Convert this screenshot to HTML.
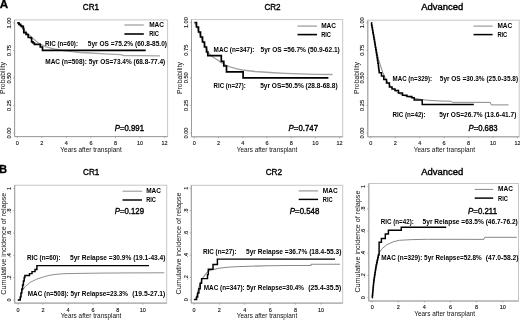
<!DOCTYPE html>
<html lang="en"><head><meta charset="utf-8"><title>Figure: OS and relapse by conditioning intensity</title>
<style>html,body{margin:0;padding:0;background:#fff;overflow:hidden}svg{display:block;will-change:transform}text{font-family:"Liberation Sans","DejaVu Sans",sans-serif}</style>
</head><body>
<svg width="520" height="320" viewBox="0 0 520 320">
<rect width="520" height="320" fill="#fff"/>
<g>
<rect x="14.6" y="19.9" width="153.0" height="116.7" fill="#fff" stroke="#c6c6c6" stroke-width="1"/>
<line x1="14.6" y1="19.9" x2="14.6" y2="136.6" stroke="#909090" stroke-width="0.8"/>
<line x1="14.6" y1="136.6" x2="167.6" y2="136.6" stroke="#909090" stroke-width="0.8"/>
<line x1="13.0" y1="23" x2="14.6" y2="23" stroke="#909090" stroke-width="0.6"/>
<text x="11.0" y="23" font-size="5.5" text-anchor="middle" textLength="11" lengthAdjust="spacingAndGlyphs" transform="rotate(-90 11.0 23)" fill="#111" stroke="#111" stroke-width="0.12">1.00</text>
<line x1="13.0" y1="50.5" x2="14.6" y2="50.5" stroke="#909090" stroke-width="0.6"/>
<text x="11.0" y="50.5" font-size="5.5" text-anchor="middle" textLength="11" lengthAdjust="spacingAndGlyphs" transform="rotate(-90 11.0 50.5)" fill="#111" stroke="#111" stroke-width="0.12">0.75</text>
<line x1="13.0" y1="78.0" x2="14.6" y2="78.0" stroke="#909090" stroke-width="0.6"/>
<text x="11.0" y="78.0" font-size="5.5" text-anchor="middle" textLength="11" lengthAdjust="spacingAndGlyphs" transform="rotate(-90 11.0 78.0)" fill="#111" stroke="#111" stroke-width="0.12">0.50</text>
<line x1="13.0" y1="105.5" x2="14.6" y2="105.5" stroke="#909090" stroke-width="0.6"/>
<text x="11.0" y="105.5" font-size="5.5" text-anchor="middle" textLength="11" lengthAdjust="spacingAndGlyphs" transform="rotate(-90 11.0 105.5)" fill="#111" stroke="#111" stroke-width="0.12">0.25</text>
<line x1="13.0" y1="133" x2="14.6" y2="133" stroke="#909090" stroke-width="0.6"/>
<text x="11.0" y="133" font-size="5.5" text-anchor="middle" textLength="11" lengthAdjust="spacingAndGlyphs" transform="rotate(-90 11.0 133)" fill="#111" stroke="#111" stroke-width="0.12">0.00</text>
<line x1="17.3" y1="136.6" x2="17.3" y2="138.2" stroke="#909090" stroke-width="0.6"/>
<text x="17.3" y="145.05" font-size="5.5" text-anchor="middle" fill="#111" stroke="#111" stroke-width="0.12">0</text>
<line x1="41.85" y1="136.6" x2="41.85" y2="138.2" stroke="#909090" stroke-width="0.6"/>
<text x="41.85" y="145.05" font-size="5.5" text-anchor="middle" fill="#111" stroke="#111" stroke-width="0.12">2</text>
<line x1="66.4" y1="136.6" x2="66.4" y2="138.2" stroke="#909090" stroke-width="0.6"/>
<text x="66.4" y="145.05" font-size="5.5" text-anchor="middle" fill="#111" stroke="#111" stroke-width="0.12">4</text>
<line x1="90.95" y1="136.6" x2="90.95" y2="138.2" stroke="#909090" stroke-width="0.6"/>
<text x="90.95" y="145.05" font-size="5.5" text-anchor="middle" fill="#111" stroke="#111" stroke-width="0.12">6</text>
<line x1="115.5" y1="136.6" x2="115.5" y2="138.2" stroke="#909090" stroke-width="0.6"/>
<text x="115.5" y="145.05" font-size="5.5" text-anchor="middle" fill="#111" stroke="#111" stroke-width="0.12">8</text>
<line x1="140.05" y1="136.6" x2="140.05" y2="138.2" stroke="#909090" stroke-width="0.6"/>
<text x="140.05" y="145.05" font-size="5.5" text-anchor="middle" fill="#111" stroke="#111" stroke-width="0.12">10</text>
<line x1="164.6" y1="136.6" x2="164.6" y2="138.2" stroke="#909090" stroke-width="0.6"/>
<text x="164.6" y="145.05" font-size="5.5" text-anchor="middle" fill="#111" stroke="#111" stroke-width="0.12">12</text>
<text x="91" y="151.9" font-size="6.9" text-anchor="middle" textLength="61.4" lengthAdjust="spacingAndGlyphs" fill="#111">Years after transplant</text>
<text x="5.2" y="78" font-size="6.7" text-anchor="middle" textLength="32" lengthAdjust="spacingAndGlyphs" transform="rotate(-90 5.2 78)" fill="#111">Probability</text>
<text x="90.9" y="9.9" font-size="9.8" text-anchor="middle" textLength="16.2" lengthAdjust="spacingAndGlyphs" stroke="#000" stroke-width="0.4">CR1</text>
<polyline points="17.3,22.8 20,25.6 24,30 28,34 32,37.6 36.2,41.2 40,44.2 46.2,46.9 53.7,48.8 62.5,50.3 72,51.7 80,52.5 90,53 105,53.8 120.5,54.6 124,55.6 140,55.7 160,55.9" fill="none" stroke="#a6a6a6" stroke-width="1.35" stroke-linejoin="round"/>
<polyline points="17.3,22.8 19,22.8 19,24.3 20.5,24.3 20.5,25.5 21.6,25.5 21.6,26.4 23.3,26.4 23.3,28.5 23.8,28.5 23.8,32.6 26,32.6 26,34.5 28.2,34.5 28.2,37.5 30.9,37.5 30.9,38 31.6,38 31.6,41.8 33,41.8 33,43 34.4,43 34.4,44.4 39.4,44.4 40.3,44.4 40.3,47 42.5,47 42.5,50.3 145.7,50.3" fill="none" stroke="#000" stroke-width="1.7" stroke-linejoin="miter"/>
<line x1="124.4" y1="25" x2="143.8" y2="25" stroke="#a6a6a6" stroke-width="1.35"/>
<line x1="124.4" y1="34" x2="143.8" y2="34" stroke="#000" stroke-width="1.6"/>
<text x="149.2" y="27.05" font-size="6.8" font-weight="bold" textLength="14.8" lengthAdjust="spacingAndGlyphs">MAC</text>
<text x="149.2" y="36.4" font-size="6.8" font-weight="bold" textLength="9.8" lengthAdjust="spacingAndGlyphs">RIC</text>
<text x="114.8" y="131.2" font-size="8.8" stroke="#000" stroke-width="0.38" textLength="29.2" lengthAdjust="spacingAndGlyphs"><tspan font-style="italic">P</tspan>=0.991</text>
<text x="45" y="46" font-size="7" font-weight="bold" textLength="33" lengthAdjust="spacingAndGlyphs">RIC (n=60):</text>
<text x="87.8" y="46" font-size="7" font-weight="bold" textLength="79.2" lengthAdjust="spacingAndGlyphs">5yr OS =75.2% (60.8-85.0)</text>
<text x="45.3" y="63.5" font-size="7" font-weight="bold" textLength="119.9" lengthAdjust="spacingAndGlyphs">MAC (n=508): 5yr OS=73.4% (68.8-77.4)</text>
</g>
<g>
<rect x="191.5" y="19.6" width="151.2" height="117.2" fill="#fff" stroke="#c6c6c6" stroke-width="1"/>
<line x1="191.5" y1="19.6" x2="191.5" y2="136.8" stroke="#909090" stroke-width="0.8"/>
<line x1="191.5" y1="136.8" x2="342.7" y2="136.8" stroke="#909090" stroke-width="0.8"/>
<line x1="189.9" y1="22.6" x2="191.5" y2="22.6" stroke="#909090" stroke-width="0.6"/>
<text x="187.9" y="22.6" font-size="5.5" text-anchor="middle" textLength="11" lengthAdjust="spacingAndGlyphs" transform="rotate(-90 187.9 22.6)" fill="#111" stroke="#111" stroke-width="0.12">1.00</text>
<line x1="189.9" y1="50.2" x2="191.5" y2="50.2" stroke="#909090" stroke-width="0.6"/>
<text x="187.9" y="50.2" font-size="5.5" text-anchor="middle" textLength="11" lengthAdjust="spacingAndGlyphs" transform="rotate(-90 187.9 50.2)" fill="#111" stroke="#111" stroke-width="0.12">0.75</text>
<line x1="189.9" y1="77.8" x2="191.5" y2="77.8" stroke="#909090" stroke-width="0.6"/>
<text x="187.9" y="77.8" font-size="5.5" text-anchor="middle" textLength="11" lengthAdjust="spacingAndGlyphs" transform="rotate(-90 187.9 77.8)" fill="#111" stroke="#111" stroke-width="0.12">0.50</text>
<line x1="189.9" y1="105.4" x2="191.5" y2="105.4" stroke="#909090" stroke-width="0.6"/>
<text x="187.9" y="105.4" font-size="5.5" text-anchor="middle" textLength="11" lengthAdjust="spacingAndGlyphs" transform="rotate(-90 187.9 105.4)" fill="#111" stroke="#111" stroke-width="0.12">0.25</text>
<line x1="189.9" y1="133.0" x2="191.5" y2="133.0" stroke="#909090" stroke-width="0.6"/>
<text x="187.9" y="133.0" font-size="5.5" text-anchor="middle" textLength="11" lengthAdjust="spacingAndGlyphs" transform="rotate(-90 187.9 133.0)" fill="#111" stroke="#111" stroke-width="0.12">0.00</text>
<line x1="194.4" y1="136.8" x2="194.4" y2="138.4" stroke="#909090" stroke-width="0.6"/>
<text x="194.4" y="145.25" font-size="5.5" text-anchor="middle" fill="#111" stroke="#111" stroke-width="0.12">0</text>
<line x1="218.6" y1="136.8" x2="218.6" y2="138.4" stroke="#909090" stroke-width="0.6"/>
<text x="218.6" y="145.25" font-size="5.5" text-anchor="middle" fill="#111" stroke="#111" stroke-width="0.12">2</text>
<line x1="242.8" y1="136.8" x2="242.8" y2="138.4" stroke="#909090" stroke-width="0.6"/>
<text x="242.8" y="145.25" font-size="5.5" text-anchor="middle" fill="#111" stroke="#111" stroke-width="0.12">4</text>
<line x1="267.0" y1="136.8" x2="267.0" y2="138.4" stroke="#909090" stroke-width="0.6"/>
<text x="267.0" y="145.25" font-size="5.5" text-anchor="middle" fill="#111" stroke="#111" stroke-width="0.12">6</text>
<line x1="291.2" y1="136.8" x2="291.2" y2="138.4" stroke="#909090" stroke-width="0.6"/>
<text x="291.2" y="145.25" font-size="5.5" text-anchor="middle" fill="#111" stroke="#111" stroke-width="0.12">8</text>
<line x1="315.4" y1="136.8" x2="315.4" y2="138.4" stroke="#909090" stroke-width="0.6"/>
<text x="315.4" y="145.25" font-size="5.5" text-anchor="middle" fill="#111" stroke="#111" stroke-width="0.12">10</text>
<line x1="339.6" y1="136.8" x2="339.6" y2="138.4" stroke="#909090" stroke-width="0.6"/>
<text x="339.6" y="145.25" font-size="5.5" text-anchor="middle" fill="#111" stroke="#111" stroke-width="0.12">12</text>
<text x="267" y="152" font-size="6.9" text-anchor="middle" textLength="60.5" lengthAdjust="spacingAndGlyphs" fill="#111">Years after transplant</text>
<text x="182.2" y="78" font-size="6.7" text-anchor="middle" textLength="32" lengthAdjust="spacingAndGlyphs" transform="rotate(-90 182.2 78)" fill="#111">Probability</text>
<text x="272.5" y="9.9" font-size="9.8" text-anchor="middle" textLength="16.2" lengthAdjust="spacingAndGlyphs" stroke="#000" stroke-width="0.4">CR2</text>
<polyline points="194.5,22.5 197.8,29 201,37 204.2,44 208.5,52.6 211.3,56 216,59 221.3,62.4 225,64.8 230,66.9 237,68.9 242.5,70 255,71.5 270,72.5 285,73.3 300,73.9 315,74.3 332.5,74.5" fill="none" stroke="#a2a2a2" stroke-width="1.35" stroke-linejoin="round"/>
<polyline points="194.5,22.5 196.5,22.5 196.5,27 198.5,27 198.5,32 200.5,32 200.5,37 202.5,37 202.5,42 204.5,42 204.5,47 206.5,47 206.5,52 207.8,52 207.8,55.6 221.3,55.6 221.3,61.3 223.8,61.3 223.8,66 226.5,66 226.5,71.8 243.1,71.8 243.1,77.8 328.4,77.8" fill="none" stroke="#000" stroke-width="1.7" stroke-linejoin="miter"/>
<line x1="297.5" y1="26.1" x2="317" y2="26.1" stroke="#a2a2a2" stroke-width="1.35"/>
<line x1="297.5" y1="34.6" x2="317" y2="34.6" stroke="#000" stroke-width="1.6"/>
<text x="321.2" y="28.15" font-size="6.8" font-weight="bold" textLength="14.8" lengthAdjust="spacingAndGlyphs">MAC</text>
<text x="321.2" y="37.0" font-size="6.8" font-weight="bold" textLength="9.8" lengthAdjust="spacingAndGlyphs">RIC</text>
<text x="288.6" y="131.2" font-size="8.8" stroke="#000" stroke-width="0.38" textLength="29.4" lengthAdjust="spacingAndGlyphs"><tspan font-style="italic">P</tspan>=0.747</text>
<text x="213.6" y="52.2" font-size="7" font-weight="bold" textLength="40.8" lengthAdjust="spacingAndGlyphs">MAC (n=347):</text>
<text x="260.5" y="52.2" font-size="7" font-weight="bold" textLength="79.3" lengthAdjust="spacingAndGlyphs">5yr OS =56.7% (50.9-62.1)</text>
<text x="213.6" y="88.3" font-size="7" font-weight="bold" textLength="32.2" lengthAdjust="spacingAndGlyphs">RIC (n=27):</text>
<text x="260.2" y="88.3" font-size="7" font-weight="bold" textLength="77.4" lengthAdjust="spacingAndGlyphs">5yr OS=50.5% (28.8-68.8)</text>
</g>
<g>
<rect x="367.8" y="20.2" width="151.4" height="116.6" fill="#fff" stroke="#c6c6c6" stroke-width="1"/>
<line x1="367.8" y1="20.2" x2="367.8" y2="136.8" stroke="#909090" stroke-width="0.8"/>
<line x1="367.8" y1="136.8" x2="519.2" y2="136.8" stroke="#909090" stroke-width="0.8"/>
<line x1="366.2" y1="22.8" x2="367.8" y2="22.8" stroke="#909090" stroke-width="0.6"/>
<text x="364.2" y="22.8" font-size="5.5" text-anchor="middle" textLength="11" lengthAdjust="spacingAndGlyphs" transform="rotate(-90 364.2 22.8)" fill="#111" stroke="#111" stroke-width="0.12">1.00</text>
<line x1="366.2" y1="50.35" x2="367.8" y2="50.35" stroke="#909090" stroke-width="0.6"/>
<text x="364.2" y="50.35" font-size="5.5" text-anchor="middle" textLength="11" lengthAdjust="spacingAndGlyphs" transform="rotate(-90 364.2 50.35)" fill="#111" stroke="#111" stroke-width="0.12">0.75</text>
<line x1="366.2" y1="77.9" x2="367.8" y2="77.9" stroke="#909090" stroke-width="0.6"/>
<text x="364.2" y="77.9" font-size="5.5" text-anchor="middle" textLength="11" lengthAdjust="spacingAndGlyphs" transform="rotate(-90 364.2 77.9)" fill="#111" stroke="#111" stroke-width="0.12">0.50</text>
<line x1="366.2" y1="105.45" x2="367.8" y2="105.45" stroke="#909090" stroke-width="0.6"/>
<text x="364.2" y="105.45" font-size="5.5" text-anchor="middle" textLength="11" lengthAdjust="spacingAndGlyphs" transform="rotate(-90 364.2 105.45)" fill="#111" stroke="#111" stroke-width="0.12">0.25</text>
<line x1="366.2" y1="133.0" x2="367.8" y2="133.0" stroke="#909090" stroke-width="0.6"/>
<text x="364.2" y="133.0" font-size="5.5" text-anchor="middle" textLength="11" lengthAdjust="spacingAndGlyphs" transform="rotate(-90 364.2 133.0)" fill="#111" stroke="#111" stroke-width="0.12">0.00</text>
<line x1="370.8" y1="136.8" x2="370.8" y2="138.4" stroke="#909090" stroke-width="0.6"/>
<text x="370.8" y="145.25" font-size="5.5" text-anchor="middle" fill="#111" stroke="#111" stroke-width="0.12">0</text>
<line x1="395.25" y1="136.8" x2="395.25" y2="138.4" stroke="#909090" stroke-width="0.6"/>
<text x="395.25" y="145.25" font-size="5.5" text-anchor="middle" fill="#111" stroke="#111" stroke-width="0.12">2</text>
<line x1="419.7" y1="136.8" x2="419.7" y2="138.4" stroke="#909090" stroke-width="0.6"/>
<text x="419.7" y="145.25" font-size="5.5" text-anchor="middle" fill="#111" stroke="#111" stroke-width="0.12">4</text>
<line x1="444.15" y1="136.8" x2="444.15" y2="138.4" stroke="#909090" stroke-width="0.6"/>
<text x="444.15" y="145.25" font-size="5.5" text-anchor="middle" fill="#111" stroke="#111" stroke-width="0.12">6</text>
<line x1="468.6" y1="136.8" x2="468.6" y2="138.4" stroke="#909090" stroke-width="0.6"/>
<text x="468.6" y="145.25" font-size="5.5" text-anchor="middle" fill="#111" stroke="#111" stroke-width="0.12">8</text>
<line x1="493.05" y1="136.8" x2="493.05" y2="138.4" stroke="#909090" stroke-width="0.6"/>
<text x="493.05" y="145.25" font-size="5.5" text-anchor="middle" fill="#111" stroke="#111" stroke-width="0.12">10</text>
<line x1="517.5" y1="136.8" x2="517.5" y2="138.4" stroke="#909090" stroke-width="0.6"/>
<text x="517.5" y="145.25" font-size="5.5" text-anchor="middle" fill="#111" stroke="#111" stroke-width="0.12">12</text>
<text x="444.4" y="151.9" font-size="6.9" text-anchor="middle" textLength="61.4" lengthAdjust="spacingAndGlyphs" fill="#111">Years after transplant</text>
<text x="358.5" y="78" font-size="6.7" text-anchor="middle" textLength="32" lengthAdjust="spacingAndGlyphs" transform="rotate(-90 358.5 78)" fill="#111">Probability</text>
<text x="442.3" y="9.9" font-size="9.8" text-anchor="middle" textLength="42" lengthAdjust="spacingAndGlyphs" stroke="#000" stroke-width="0.4">Advanced</text>
<polyline points="371.2,22.8 373,33 375.2,44.5 376.9,52 378.4,59 380.3,65 382.8,72.5 385.5,78.5 389.4,84.8 394,89.8 398.7,93.4 404,95.6 410,97.2 416,98.5 421.3,99.6 430,100.4 440,101 451,101.2 452,102.3 490.4,102.4 491.2,104.9 508.5,104.9" fill="none" stroke="#888888" stroke-width="1.0" stroke-linejoin="round"/>
<polyline points="371.2,22.8 371.61,22.8 371.61,25.2 372.02,25.2 372.02,27.6 372.44,27.6 372.44,30.0 372.85,30.0 372.85,32.4 373.26,32.4 373.26,34.8 373.68,34.8 373.68,37.2 374.09,37.2 374.09,39.6 374.5,39.6 374.5,42.0 374.92,42.0 374.92,44.6 375.34,44.6 375.34,47.2 375.76,47.2 375.76,49.8 376.18,49.8 376.18,52.4 376.6,52.4 376.6,55.0 377.03,55.0 377.03,57.75 377.45,57.75 377.45,60.5 377.88,60.5 377.88,63.25 378.3,63.25 378.3,66.0 378.6,66.0 378.6,68.27 378.9,68.27 378.9,70.53 379.2,70.53 379.2,72.8 381.5,72.8 381.5,76 383.8,76 383.8,79.4 386.5,79.4 386.5,83 389.4,83 389.4,86.9 392,86.9 392,89 395,89 395,90.6 398.5,90.6 398.5,93 402.5,93 402.5,95.3 407,95.3 407,96.5 411.9,96.5 411.9,97.8 414.2,97.8 414.2,100 422.2,100 422.2,104.4 473.8,104.4" fill="none" stroke="#000" stroke-width="1.5" stroke-linejoin="miter"/>
<line x1="473.5" y1="26.1" x2="492.6" y2="26.1" stroke="#888888" stroke-width="1.0"/>
<line x1="473.5" y1="34.6" x2="492.6" y2="34.6" stroke="#000" stroke-width="1.5"/>
<text x="497.4" y="28.15" font-size="6.8" font-weight="bold" textLength="14.8" lengthAdjust="spacingAndGlyphs">MAC</text>
<text x="497.4" y="37.0" font-size="6.8" font-weight="bold" textLength="9.8" lengthAdjust="spacingAndGlyphs">RIC</text>
<text x="468.5" y="131.1" font-size="8.8" stroke="#000" stroke-width="0.38" textLength="29" lengthAdjust="spacingAndGlyphs"><tspan font-style="italic">P</tspan>=0.683</text>
<text x="392.6" y="80.6" font-size="7" font-weight="bold" textLength="39.5" lengthAdjust="spacingAndGlyphs">MAC (n=329):</text>
<text x="439.8" y="80.6" font-size="7" font-weight="bold" textLength="78.3" lengthAdjust="spacingAndGlyphs">5yr OS =30.3% (25.0-35.8)</text>
<text x="392.5" y="117" font-size="7" font-weight="bold" textLength="33" lengthAdjust="spacingAndGlyphs">RIC (n=42):</text>
<text x="439.2" y="117" font-size="7" font-weight="bold" textLength="77.2" lengthAdjust="spacingAndGlyphs">5yr OS=26.7% (13.6-41.7)</text>
</g>
<g>
<rect x="14.7" y="185.2" width="152.0" height="117.9" fill="#fff" stroke="#c6c6c6" stroke-width="1"/>
<line x1="14.7" y1="185.2" x2="14.7" y2="303.1" stroke="#909090" stroke-width="0.8"/>
<line x1="14.7" y1="303.1" x2="166.7" y2="303.1" stroke="#909090" stroke-width="0.8"/>
<line x1="13.1" y1="188.4" x2="14.7" y2="188.4" stroke="#909090" stroke-width="0.6"/>
<text x="11.1" y="188.4" font-size="5.5" text-anchor="middle" transform="rotate(-90 11.1 188.4)" fill="#111" stroke="#111" stroke-width="0.12">1</text>
<line x1="13.1" y1="210.72" x2="14.7" y2="210.72" stroke="#909090" stroke-width="0.6"/>
<text x="11.1" y="210.72" font-size="5.5" text-anchor="middle" transform="rotate(-90 11.1 210.72)" fill="#111" stroke="#111" stroke-width="0.12">.8</text>
<line x1="13.1" y1="233.04" x2="14.7" y2="233.04" stroke="#909090" stroke-width="0.6"/>
<text x="11.1" y="233.04" font-size="5.5" text-anchor="middle" transform="rotate(-90 11.1 233.04)" fill="#111" stroke="#111" stroke-width="0.12">.6</text>
<line x1="13.1" y1="255.36" x2="14.7" y2="255.36" stroke="#909090" stroke-width="0.6"/>
<text x="11.1" y="255.36" font-size="5.5" text-anchor="middle" transform="rotate(-90 11.1 255.36)" fill="#111" stroke="#111" stroke-width="0.12">.4</text>
<line x1="13.1" y1="277.68" x2="14.7" y2="277.68" stroke="#909090" stroke-width="0.6"/>
<text x="11.1" y="277.68" font-size="5.5" text-anchor="middle" transform="rotate(-90 11.1 277.68)" fill="#111" stroke="#111" stroke-width="0.12">.2</text>
<line x1="13.1" y1="300.0" x2="14.7" y2="300.0" stroke="#909090" stroke-width="0.6"/>
<text x="11.1" y="300.0" font-size="5.5" text-anchor="middle" transform="rotate(-90 11.1 300.0)" fill="#111" stroke="#111" stroke-width="0.12">0</text>
<line x1="18.1" y1="303.1" x2="18.1" y2="304.7" stroke="#909090" stroke-width="0.6"/>
<text x="18.1" y="311.9" font-size="5.5" text-anchor="middle" fill="#111" stroke="#111" stroke-width="0.12">0</text>
<line x1="43.05" y1="303.1" x2="43.05" y2="304.7" stroke="#909090" stroke-width="0.6"/>
<text x="43.05" y="311.9" font-size="5.5" text-anchor="middle" fill="#111" stroke="#111" stroke-width="0.12">2</text>
<line x1="68.0" y1="303.1" x2="68.0" y2="304.7" stroke="#909090" stroke-width="0.6"/>
<text x="68.0" y="311.9" font-size="5.5" text-anchor="middle" fill="#111" stroke="#111" stroke-width="0.12">4</text>
<line x1="92.95" y1="303.1" x2="92.95" y2="304.7" stroke="#909090" stroke-width="0.6"/>
<text x="92.95" y="311.9" font-size="5.5" text-anchor="middle" fill="#111" stroke="#111" stroke-width="0.12">6</text>
<line x1="117.9" y1="303.1" x2="117.9" y2="304.7" stroke="#909090" stroke-width="0.6"/>
<text x="117.9" y="311.9" font-size="5.5" text-anchor="middle" fill="#111" stroke="#111" stroke-width="0.12">8</text>
<line x1="142.85" y1="303.1" x2="142.85" y2="304.7" stroke="#909090" stroke-width="0.6"/>
<text x="142.85" y="311.9" font-size="5.5" text-anchor="middle" fill="#111" stroke="#111" stroke-width="0.12">10</text>
<text x="91" y="318.4" font-size="6.9" text-anchor="middle" textLength="60.6" lengthAdjust="spacingAndGlyphs" fill="#111">Years after transplant</text>
<text x="6.0" y="243.7" font-size="6.8" text-anchor="middle" textLength="102" lengthAdjust="spacingAndGlyphs" transform="rotate(-90 6.0 243.7)" fill="#111">Cumulative incidence of relapse</text>
<text x="91.2" y="174.8" font-size="9.8" text-anchor="middle" textLength="16.2" lengthAdjust="spacingAndGlyphs" stroke="#000" stroke-width="0.4">CR1</text>
<polyline points="17.8,300 19.6,299.5 20.5,296 21.5,292 22.5,290 25.6,286.2 30.3,282.3 36.6,279.2 44.4,276.6 50,275.2 57,274.2 66,273.6 80,273.4 100,273.1 130,272.9 164.2,272.8" fill="none" stroke="#888888" stroke-width="0.95" stroke-linejoin="round"/>
<polyline points="17.8,300 19.6,300 20.3,300 20.3,297 21,297 21,293 21.8,293 21.8,289 22.6,289 22.6,285 23.4,285 23.4,281 24.2,281 24.2,277.5 24.9,277.5 24.9,275.4 29.5,275.4 29.5,273.6 32,273.6 32,271.6 35,271.6 35,269.5 36,269.5 36.9,269.5 36.9,265.6 149,265.6" fill="none" stroke="#000" stroke-width="1.45" stroke-linejoin="miter"/>
<line x1="122.5" y1="191.2" x2="142" y2="191.2" stroke="#888888" stroke-width="0.95"/>
<line x1="122.5" y1="200" x2="142" y2="200" stroke="#000" stroke-width="1.45"/>
<text x="146.2" y="193.25" font-size="6.8" font-weight="bold" textLength="14.8" lengthAdjust="spacingAndGlyphs">MAC</text>
<text x="146.2" y="202.4" font-size="6.8" font-weight="bold" textLength="9.8" lengthAdjust="spacingAndGlyphs">RIC</text>
<text x="114.8" y="214" font-size="8.8" stroke="#000" stroke-width="0.38" textLength="29.2" lengthAdjust="spacingAndGlyphs"><tspan font-style="italic">P</tspan>=0.129</text>
<text x="27" y="259.9" font-size="7" font-weight="bold" textLength="33.5" lengthAdjust="spacingAndGlyphs">RIC (n=60):</text>
<text x="70" y="259.9" font-size="7" font-weight="bold" textLength="95.4" lengthAdjust="spacingAndGlyphs">5yr Relapse =30.9% (19.1-43.4)</text>
<text x="27.8" y="296" font-size="7" font-weight="bold" textLength="100.2" lengthAdjust="spacingAndGlyphs">MAC (n=508): 5yr Relapse=23.3%</text>
<text x="132.2" y="296" font-size="7" font-weight="bold" textLength="33.2" lengthAdjust="spacingAndGlyphs">(19.5-27.1)</text>
</g>
<g>
<rect x="191.3" y="185.3" width="151.4" height="117.8" fill="#fff" stroke="#c6c6c6" stroke-width="1"/>
<line x1="191.3" y1="185.3" x2="191.3" y2="303.1" stroke="#909090" stroke-width="0.8"/>
<line x1="191.3" y1="303.1" x2="342.7" y2="303.1" stroke="#909090" stroke-width="0.8"/>
<line x1="189.7" y1="188.3" x2="191.3" y2="188.3" stroke="#909090" stroke-width="0.6"/>
<text x="187.7" y="188.3" font-size="5.5" text-anchor="middle" transform="rotate(-90 187.7 188.3)" fill="#111" stroke="#111" stroke-width="0.12">1</text>
<line x1="189.7" y1="210.6" x2="191.3" y2="210.6" stroke="#909090" stroke-width="0.6"/>
<text x="187.7" y="210.6" font-size="5.5" text-anchor="middle" transform="rotate(-90 187.7 210.6)" fill="#111" stroke="#111" stroke-width="0.12">.8</text>
<line x1="189.7" y1="232.9" x2="191.3" y2="232.9" stroke="#909090" stroke-width="0.6"/>
<text x="187.7" y="232.9" font-size="5.5" text-anchor="middle" transform="rotate(-90 187.7 232.9)" fill="#111" stroke="#111" stroke-width="0.12">.6</text>
<line x1="189.7" y1="255.2" x2="191.3" y2="255.2" stroke="#909090" stroke-width="0.6"/>
<text x="187.7" y="255.2" font-size="5.5" text-anchor="middle" transform="rotate(-90 187.7 255.2)" fill="#111" stroke="#111" stroke-width="0.12">.4</text>
<line x1="189.7" y1="277.5" x2="191.3" y2="277.5" stroke="#909090" stroke-width="0.6"/>
<text x="187.7" y="277.5" font-size="5.5" text-anchor="middle" transform="rotate(-90 187.7 277.5)" fill="#111" stroke="#111" stroke-width="0.12">.2</text>
<line x1="189.7" y1="299.8" x2="191.3" y2="299.8" stroke="#909090" stroke-width="0.6"/>
<text x="187.7" y="299.8" font-size="5.5" text-anchor="middle" transform="rotate(-90 187.7 299.8)" fill="#111" stroke="#111" stroke-width="0.12">0</text>
<line x1="194.0" y1="303.1" x2="194.0" y2="304.7" stroke="#909090" stroke-width="0.6"/>
<text x="194.0" y="311.9" font-size="5.5" text-anchor="middle" fill="#111" stroke="#111" stroke-width="0.12">0</text>
<line x1="219.4" y1="303.1" x2="219.4" y2="304.7" stroke="#909090" stroke-width="0.6"/>
<text x="219.4" y="311.9" font-size="5.5" text-anchor="middle" fill="#111" stroke="#111" stroke-width="0.12">2</text>
<line x1="244.8" y1="303.1" x2="244.8" y2="304.7" stroke="#909090" stroke-width="0.6"/>
<text x="244.8" y="311.9" font-size="5.5" text-anchor="middle" fill="#111" stroke="#111" stroke-width="0.12">4</text>
<line x1="270.2" y1="303.1" x2="270.2" y2="304.7" stroke="#909090" stroke-width="0.6"/>
<text x="270.2" y="311.9" font-size="5.5" text-anchor="middle" fill="#111" stroke="#111" stroke-width="0.12">6</text>
<line x1="295.6" y1="303.1" x2="295.6" y2="304.7" stroke="#909090" stroke-width="0.6"/>
<text x="295.6" y="311.9" font-size="5.5" text-anchor="middle" fill="#111" stroke="#111" stroke-width="0.12">8</text>
<line x1="321.0" y1="303.1" x2="321.0" y2="304.7" stroke="#909090" stroke-width="0.6"/>
<text x="321.0" y="311.9" font-size="5.5" text-anchor="middle" fill="#111" stroke="#111" stroke-width="0.12">10</text>
<text x="267" y="318.4" font-size="6.9" text-anchor="middle" textLength="60.4" lengthAdjust="spacingAndGlyphs" fill="#111">Years after transplant</text>
<text x="181.2" y="243.5" font-size="6.8" text-anchor="middle" textLength="102" lengthAdjust="spacingAndGlyphs" transform="rotate(-90 181.2 243.5)" fill="#111">Cumulative incidence of relapse</text>
<text x="273.9" y="174.8" font-size="9.8" text-anchor="middle" textLength="16.4" lengthAdjust="spacingAndGlyphs" stroke="#000" stroke-width="0.4">CR2</text>
<polyline points="194,299.8 196,298 198,290.5 200,284 203,277.8 206,273.6 208,271.5 211.4,270 219,268.2 227,267.3 235,266.7 250,266.2 268,265.8 290,265.6 310.8,265.5 311.2,264.2 340,264.2" fill="none" stroke="#888888" stroke-width="1.05" stroke-linejoin="round"/>
<polyline points="194,299.6 196.6,299.6 196.6,297 197.7,297 197.7,292.9 198.9,292.9 198.9,288.7 200.2,288.7 200.2,283.3 201.6,283.3 201.6,278.6 207.5,278.6 207.5,274.6 208.3,274.6 208.3,269.2 213,269.2 213,264.5 217.4,264.5 217.4,259.1 335,259.1" fill="none" stroke="#000" stroke-width="1.45" stroke-linejoin="miter"/>
<line x1="298.7" y1="190.9" x2="318.1" y2="190.9" stroke="#888888" stroke-width="1.05"/>
<line x1="298.7" y1="199.4" x2="318.1" y2="199.4" stroke="#000" stroke-width="1.45"/>
<text x="322.8" y="192.95" font-size="6.8" font-weight="bold" textLength="14.8" lengthAdjust="spacingAndGlyphs">MAC</text>
<text x="322.8" y="201.8" font-size="6.8" font-weight="bold" textLength="9.8" lengthAdjust="spacingAndGlyphs">RIC</text>
<text x="289.8" y="214" font-size="8.8" stroke="#000" stroke-width="0.38" textLength="29.6" lengthAdjust="spacingAndGlyphs"><tspan font-style="italic">P</tspan>=0.548</text>
<text x="203" y="253.6" font-size="7" font-weight="bold" textLength="33.5" lengthAdjust="spacingAndGlyphs">RIC (n=27):</text>
<text x="246" y="253.6" font-size="7" font-weight="bold" textLength="95.4" lengthAdjust="spacingAndGlyphs">5yr Relapse =36.7% (18.4-55.3)</text>
<text x="203.8" y="289.6" font-size="7" font-weight="bold" textLength="100.2" lengthAdjust="spacingAndGlyphs">MAC (n=347): 5yr Relapse=30.4%</text>
<text x="308.2" y="289.6" font-size="7" font-weight="bold" textLength="33.2" lengthAdjust="spacingAndGlyphs">(25.4-35.5)</text>
</g>
<g>
<rect x="368.8" y="183.5" width="149.7" height="117.5" fill="#fff" stroke="#c6c6c6" stroke-width="1"/>
<line x1="368.8" y1="183.5" x2="368.8" y2="301" stroke="#909090" stroke-width="0.8"/>
<line x1="368.8" y1="301" x2="518.5" y2="301" stroke="#909090" stroke-width="0.8"/>
<line x1="367.2" y1="186.5" x2="368.8" y2="186.5" stroke="#909090" stroke-width="0.6"/>
<text x="365.2" y="186.5" font-size="5.5" text-anchor="middle" transform="rotate(-90 365.2 186.5)" fill="#111" stroke="#111" stroke-width="0.12">1</text>
<line x1="367.2" y1="208.76" x2="368.8" y2="208.76" stroke="#909090" stroke-width="0.6"/>
<text x="365.2" y="208.76" font-size="5.5" text-anchor="middle" transform="rotate(-90 365.2 208.76)" fill="#111" stroke="#111" stroke-width="0.12">.8</text>
<line x1="367.2" y1="231.02" x2="368.8" y2="231.02" stroke="#909090" stroke-width="0.6"/>
<text x="365.2" y="231.02" font-size="5.5" text-anchor="middle" transform="rotate(-90 365.2 231.02)" fill="#111" stroke="#111" stroke-width="0.12">.6</text>
<line x1="367.2" y1="253.28" x2="368.8" y2="253.28" stroke="#909090" stroke-width="0.6"/>
<text x="365.2" y="253.28" font-size="5.5" text-anchor="middle" transform="rotate(-90 365.2 253.28)" fill="#111" stroke="#111" stroke-width="0.12">.4</text>
<line x1="367.2" y1="275.54" x2="368.8" y2="275.54" stroke="#909090" stroke-width="0.6"/>
<text x="365.2" y="275.54" font-size="5.5" text-anchor="middle" transform="rotate(-90 365.2 275.54)" fill="#111" stroke="#111" stroke-width="0.12">.2</text>
<line x1="367.2" y1="297.8" x2="368.8" y2="297.8" stroke="#909090" stroke-width="0.6"/>
<text x="365.2" y="297.8" font-size="5.5" text-anchor="middle" transform="rotate(-90 365.2 297.8)" fill="#111" stroke="#111" stroke-width="0.12">0</text>
<line x1="372.2" y1="301" x2="372.2" y2="302.6" stroke="#909090" stroke-width="0.6"/>
<text x="372.2" y="309.3" font-size="5.5" text-anchor="middle" fill="#111" stroke="#111" stroke-width="0.12">0</text>
<line x1="398.3" y1="301" x2="398.3" y2="302.6" stroke="#909090" stroke-width="0.6"/>
<text x="398.3" y="309.3" font-size="5.5" text-anchor="middle" fill="#111" stroke="#111" stroke-width="0.12">2</text>
<line x1="424.4" y1="301" x2="424.4" y2="302.6" stroke="#909090" stroke-width="0.6"/>
<text x="424.4" y="309.3" font-size="5.5" text-anchor="middle" fill="#111" stroke="#111" stroke-width="0.12">4</text>
<line x1="450.5" y1="301" x2="450.5" y2="302.6" stroke="#909090" stroke-width="0.6"/>
<text x="450.5" y="309.3" font-size="5.5" text-anchor="middle" fill="#111" stroke="#111" stroke-width="0.12">6</text>
<line x1="476.6" y1="301" x2="476.6" y2="302.6" stroke="#909090" stroke-width="0.6"/>
<text x="476.6" y="309.3" font-size="5.5" text-anchor="middle" fill="#111" stroke="#111" stroke-width="0.12">8</text>
<line x1="502.7" y1="301" x2="502.7" y2="302.6" stroke="#909090" stroke-width="0.6"/>
<text x="502.7" y="309.3" font-size="5.5" text-anchor="middle" fill="#111" stroke="#111" stroke-width="0.12">10</text>
<text x="444.7" y="316.3" font-size="6.9" text-anchor="middle" textLength="60.9" lengthAdjust="spacingAndGlyphs" fill="#111">Years after transplant</text>
<text x="359.6" y="241.6" font-size="6.8" text-anchor="middle" textLength="102" lengthAdjust="spacingAndGlyphs" transform="rotate(-90 359.6 241.6)" fill="#111">Cumulative incidence of relapse</text>
<text x="442.2" y="174.8" font-size="9.8" text-anchor="middle" textLength="42" lengthAdjust="spacingAndGlyphs" stroke="#000" stroke-width="0.4">Advanced</text>
<polyline points="371.9,297.8 373,288 374.5,277 376,268 377.5,259 379,252.8 382.2,248.6 386.9,244.7 393.1,241.8 399.4,240.3 411.9,239.6 427.5,239.3 445,239.3 483.9,239.4 484.6,237.3 516.9,237.3" fill="none" stroke="#888888" stroke-width="1.0" stroke-linejoin="round"/>
<polyline points="372.2,297.8 372.43,297.8 372.43,295.26 372.66,295.26 372.66,292.71 372.89,292.71 372.89,290.17 373.11,290.17 373.11,287.63 373.34,287.63 373.34,285.09 373.57,285.09 373.57,282.54 373.8,282.54 373.8,280.0 374.18,280.0 374.18,277.5 374.57,277.5 374.57,275.0 374.95,275.0 374.95,272.5 375.33,272.5 375.33,270.0 375.72,270.0 375.72,267.5 376.1,267.5 376.1,265.0 376.65,265.0 376.65,262.5 377.2,262.5 377.2,260.0 377.75,260.0 377.75,257.5 378.3,257.5 378.3,255.0 379.1,255.0 379.1,252.5 379.1,242.3 381.4,242.3 381.4,238.4 385.3,238.4 385.3,234 388.4,234 388.4,230.2 401.25,230.2 401.25,227.3 446.2,227.3" fill="none" stroke="#000" stroke-width="1.45" stroke-linejoin="miter"/>
<line x1="474.7" y1="189.4" x2="493.2" y2="189.4" stroke="#888888" stroke-width="1.0"/>
<line x1="474.7" y1="198.1" x2="493.2" y2="198.1" stroke="#000" stroke-width="1.45"/>
<text x="498.1" y="191.45" font-size="6.8" font-weight="bold" textLength="14.8" lengthAdjust="spacingAndGlyphs">MAC</text>
<text x="498.1" y="200.5" font-size="6.8" font-weight="bold" textLength="9.8" lengthAdjust="spacingAndGlyphs">RIC</text>
<text x="468.1" y="214" font-size="8.8" stroke="#000" stroke-width="0.38" textLength="28.9" lengthAdjust="spacingAndGlyphs"><tspan font-style="italic">P</tspan>=0.211</text>
<text x="380.8" y="223.6" font-size="7" font-weight="bold" textLength="33" lengthAdjust="spacingAndGlyphs">RIC (n=42):</text>
<text x="422.6" y="223.6" font-size="7" font-weight="bold" textLength="95.2" lengthAdjust="spacingAndGlyphs">5yr Relapse =63.5% (46.7-76.2)</text>
<text x="381.3" y="259.6" font-size="7" font-weight="bold" textLength="100.5" lengthAdjust="spacingAndGlyphs">MAC (n=329): 5yr Relapse=52.8%</text>
<text x="485.7" y="259.6" font-size="7" font-weight="bold" textLength="32.9" lengthAdjust="spacingAndGlyphs">(47.0-58.2)</text>
</g>
<text x="-0.2" y="8.1" font-size="11.3" font-weight="bold" textLength="8.4" lengthAdjust="spacingAndGlyphs" stroke="#000" stroke-width="0.3">A</text>
<text x="-0.7" y="173.2" font-size="11.3" font-weight="bold" textLength="7.8" lengthAdjust="spacingAndGlyphs" stroke="#000" stroke-width="0.3">B</text>
</svg></body></html>
